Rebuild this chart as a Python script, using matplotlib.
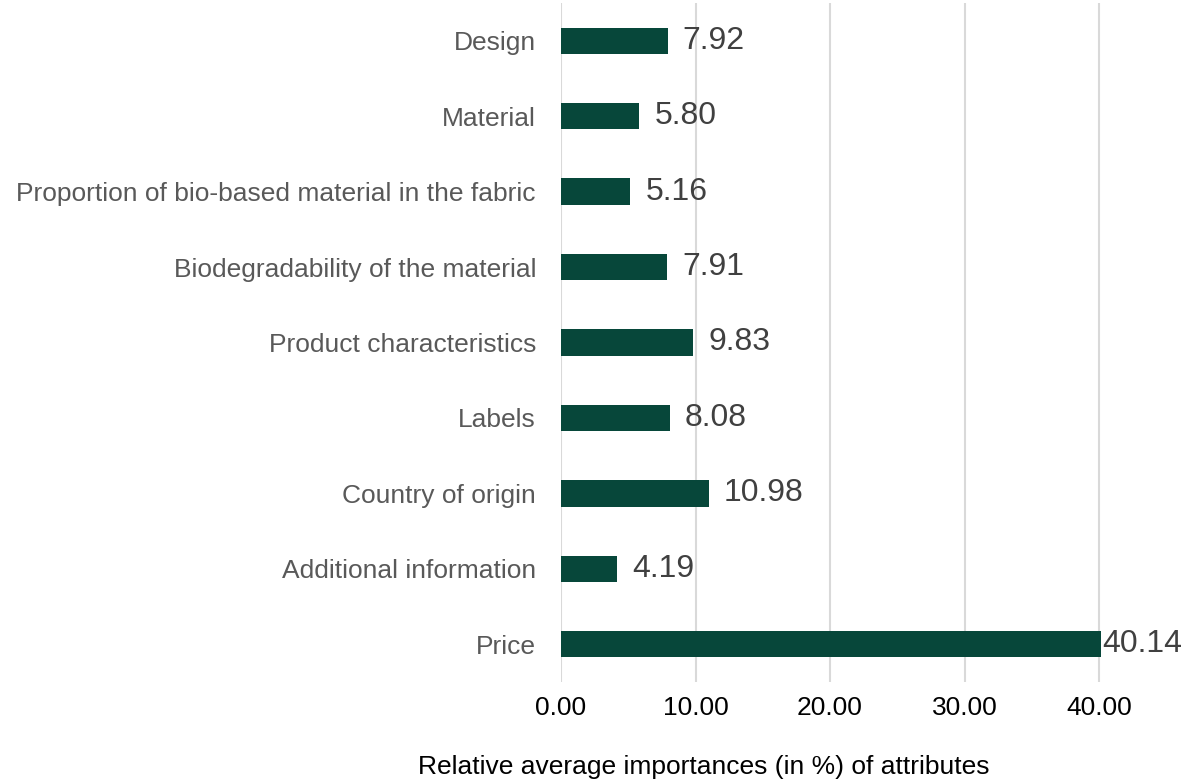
import numpy as np
import matplotlib.pyplot as plt

plt.rcParams['font.family'] = ['Liberation Sans', 'DejaVu Sans']

# attributes, bottom to top
categories = ['Price', 'Additional information', 'Country of origin', 'Labels',
              'Product characteristics', 'Biodegradability of the material',
              'Proportion of bio-based material in the fabric', 'Material', 'Design']
values = [40.14, 4.19, 10.98, 8.08, 9.83, 7.91, 5.16, 5.80, 7.92]
xticks = [0, 10, 20, 30, 40]

bar_col = '#07473A'

fig = plt.figure(figsize=(12.02, 7.81), dpi=100)
ax = fig.add_axes([561/1202, 1-682/781, (1190-561)/1202, 679/781])

y = np.arange(len(categories))
ax.barh(y, values, height=0.35, color=bar_col, zorder=3)

for i, v in enumerate(values):
    off = 1 if v > 40 else 11
    ax.annotate('%.2f' % v, (v, i), xytext=(off, 0), textcoords='offset points',
                va='center', ha='left', fontsize=23, color='#404040')

ax.set_ylim(-0.5, len(categories) - 0.5)
ax.set_xlim(0, 40 * (1190 - 561) / (1099 - 561))
ax.set_yticks(y)
ax.set_yticklabels(categories, fontsize=19, color='#595959')
ax.set_xticks(xticks)
ax.set_xticklabels(['%.2f' % t for t in xticks], fontsize=19, color='black')
ax.tick_params(axis='both', length=0)
ax.tick_params(axis='y', pad=18)
ax.tick_params(axis='x', pad=10)
ax.grid(axis='x', color='#D9D9D9', linewidth=1.5, zorder=0)
for s in ax.spines.values():
    s.set_visible(False)

fig.text(704/1202, 1-767/781, 'Relative average importances (in %) of attributes',
         fontsize=19, color='black', ha='center', va='center')

plt.savefig('out.png', dpi=100)
